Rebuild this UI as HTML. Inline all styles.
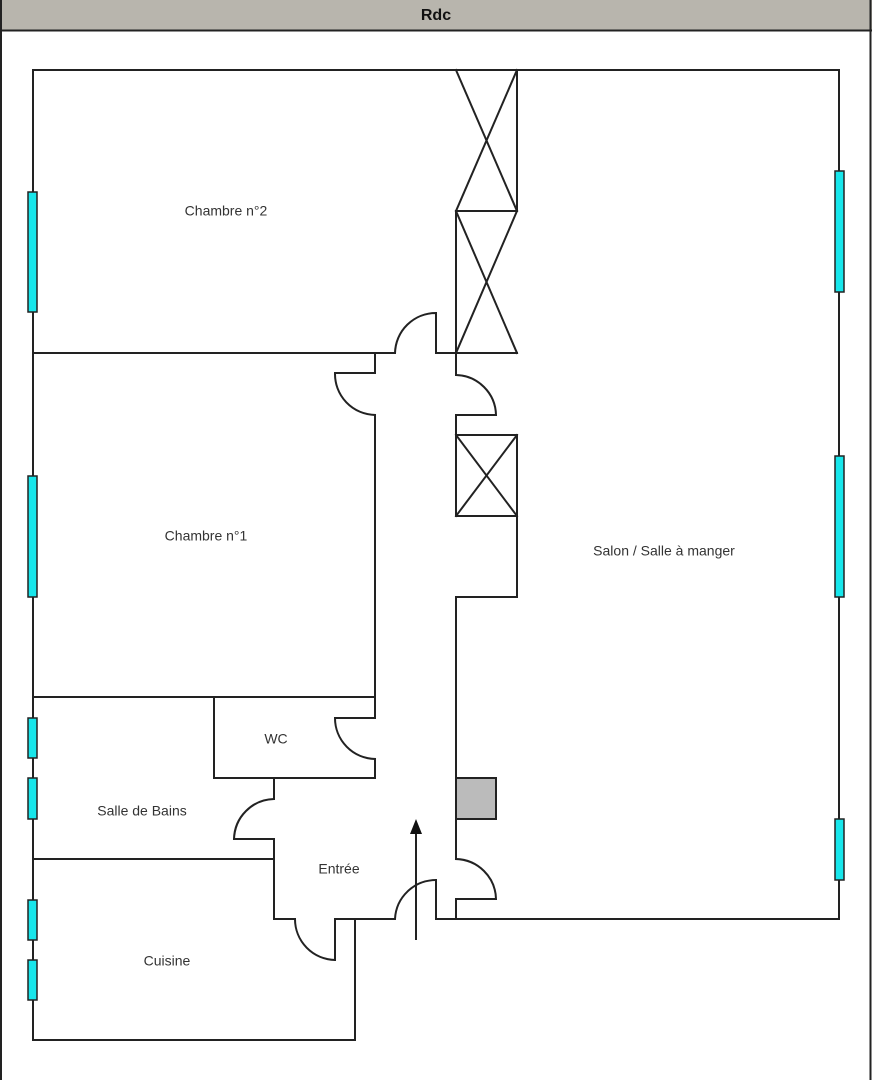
<!DOCTYPE html>
<html><head><meta charset="utf-8"><style>
html,body{margin:0;padding:0;background:#fff;}
svg{display:block}
text{font-family:"Liberation Sans",sans-serif;font-size:14px;fill:#333;text-anchor:middle;dominant-baseline:middle}
</style></head><body>
<svg width="872" height="1080" viewBox="0 0 872 1080" xmlns="http://www.w3.org/2000/svg">
<rect x="0" y="0" width="872" height="30" fill="#b8b5ad"/>
<line x1="0" y1="30.5" x2="872" y2="30.5" stroke="#222" stroke-width="2"/>
<line x1="1" y1="0" x2="1" y2="1080" stroke="#222" stroke-width="2"/>
<line x1="870.5" y1="0" x2="870.5" y2="1080" stroke="#222" stroke-width="2"/>
<text x="436" y="16" style="font-weight:bold;font-size:16px;fill:#111">Rdc</text>
<g stroke="#222" stroke-width="2" fill="none" stroke-linecap="square">
<polyline points="33,1040 33,70 839,70 839,919 436,919 436,880"/>
<path d="M436,880 A41,41 0 0 0 395,919 L355,919"/>
<polyline points="33,1040 355,1040 355,919 335,919 335,960"/>
<path d="M335,960 A41,41 0 0 1 295,919 L274,919 274,839 234,839"/>
<path d="M234,839 A41,41 0 0 1 274,799 L274,778"/>
<line x1="33" y1="859" x2="274" y2="859"/>
<polyline points="214,697 214,778 375,778 375,759"/>
<path d="M375,759 A41,41 0 0 1 335,718 L375,718 375,697 33,697"/>
<polyline points="375,697 375,415"/>
<path d="M375,415 A41,41 0 0 1 335,373 L375,373 375,353 395,353"/>
<path d="M395,353 A41,41 0 0 1 436,313 L436,353 517,353"/>
<line x1="33" y1="353" x2="395" y2="353"/>
<polyline points="517,70 517,211 456,211 456,353"/>
<line x1="456" y1="70" x2="517" y2="211"/><line x1="517" y1="70" x2="456" y2="211"/>
<line x1="456" y1="211" x2="517" y2="353"/><line x1="517" y1="211" x2="456" y2="353"/>
<path d="M456,353 L456,375 A41,41 0 0 1 496,415 L456,415 456,435"/>
<rect x="456" y="435" width="61" height="81"/>
<line x1="456" y1="435" x2="517" y2="516"/><line x1="517" y1="435" x2="456" y2="516"/>
<polyline points="517,516 517,597 456,597 456,859"/>
<path d="M456,859 A41,41 0 0 1 496,899 L456,899 456,919"/>
</g>
<rect x="456" y="778" width="40" height="41" fill="#bbb" stroke="#222" stroke-width="2"/>
<line x1="416" y1="940" x2="416" y2="832" stroke="#222" stroke-width="2"/>
<polygon points="416,819 410,834 422,834" fill="#111"/>
<g fill="#17e6eb" stroke="#222" stroke-width="1.5">
<rect x="28" y="192" width="9" height="120"/>
<rect x="28" y="476" width="9" height="121"/>
<rect x="28" y="718" width="9" height="40"/>
<rect x="28" y="778" width="9" height="41"/>
<rect x="28" y="900" width="9" height="40"/>
<rect x="28" y="960" width="9" height="40"/>
<rect x="835" y="171" width="9" height="121"/>
<rect x="835" y="456" width="9" height="141"/>
<rect x="835" y="819" width="9" height="61"/>
</g>
<text x="226" y="212">Chambre n°2</text>
<text x="206" y="537">Chambre n°1</text>
<text x="664" y="552">Salon / Salle à manger</text>
<text x="276" y="740">WC</text>
<text x="142" y="812">Salle de Bains</text>
<text x="339" y="870">Entrée</text>
<text x="167" y="962">Cuisine</text>
</svg>
</body></html>
